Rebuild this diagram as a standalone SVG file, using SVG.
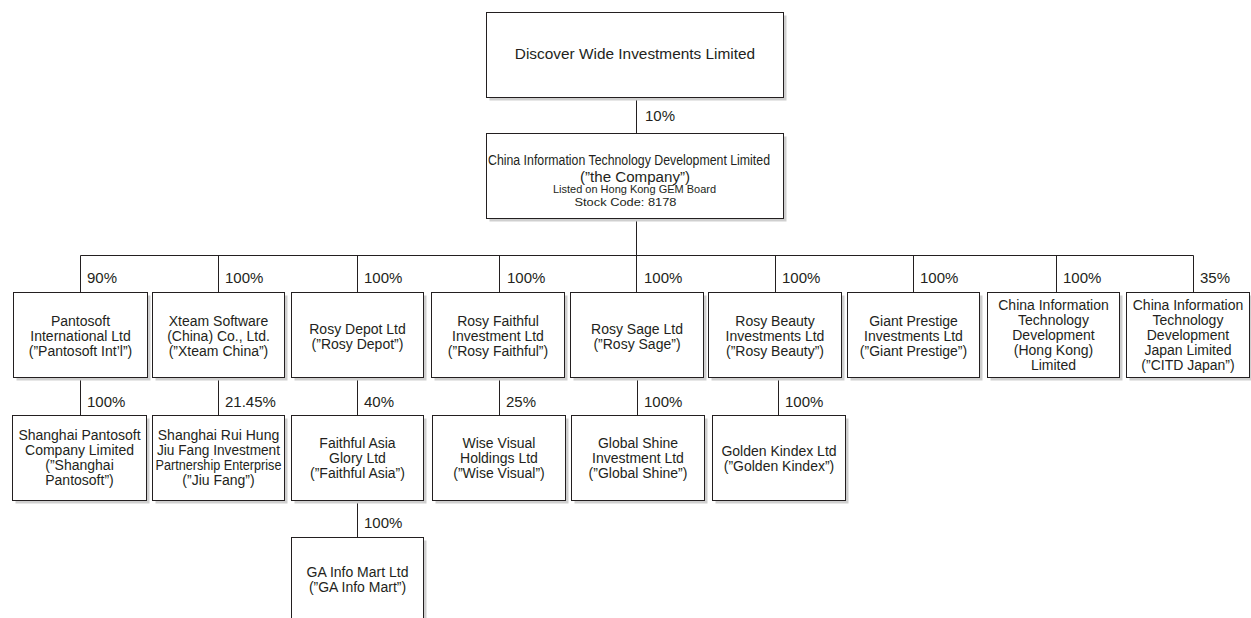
<svg xmlns="http://www.w3.org/2000/svg" width="1251" height="618" viewBox="0 0 1251 618">
<style>
  .bx{fill:#fff;stroke:#231f20;stroke-width:1}
  .sh{fill:#cfcfcf}
  .t{font-family:"Liberation Sans",Arial,Helvetica,sans-serif;font-size:14px;fill:#231f20;text-anchor:middle}
  .pc{font-family:"Liberation Sans",Arial,Helvetica,sans-serif;font-size:15px;fill:#231f20}
  .ln{stroke:#231f20;stroke-width:1;fill:none}
</style>
<rect width="1251" height="618" fill="#fff"/>

<g id="connectors">
  <path class="ln" d="M636.5 97V133"/>
  <path class="ln" d="M636.5 218V255.5M80.5 255.5H1193.5M80.5 255.5V292M218.5 255.5V292M357.5 255.5V292M499.5 255.5V292M636.5 255.5V292M775.5 255.5V292M913.5 255.5V292M1056.5 255.5V292M1193.5 255.5V292"/>
  <path class="ln" d="M80.5 377V415M218.5 377V415M357.5 377V415M499.5 377V415M637.5 377V415M778.5 377V415"/>
  <path class="ln" d="M357.5 500V537"/>
  <text class="pc" x="645" y="121">10%</text>
  <text class="pc" x="87" y="283">90%</text>
  <text class="pc" x="225" y="283">100%</text>
  <text class="pc" x="364" y="283">100%</text>
  <text class="pc" x="507" y="283">100%</text>
  <text class="pc" x="644" y="283">100%</text>
  <text class="pc" x="782" y="283">100%</text>
  <text class="pc" x="920" y="283">100%</text>
  <text class="pc" x="1063" y="283">100%</text>
  <text class="pc" x="1200" y="283">35%</text>
  <text class="pc" x="87" y="407">100%</text>
  <text class="pc" x="225" y="407">21.45%</text>
  <text class="pc" x="364" y="407">40%</text>
  <text class="pc" x="506" y="407">25%</text>
  <text class="pc" x="644" y="407">100%</text>
  <text class="pc" x="785" y="407">100%</text>
  <text class="pc" x="364" y="528">100%</text>
</g>

<g id="discover">
  <rect class="sh" x="489.5" y="15.5" width="297" height="85"/>
  <rect class="bx" x="486.5" y="12.5" width="297" height="85"/>
  <text class="t" x="635" y="59" style="font-size:15.4px">Discover Wide Investments Limited</text>
</g>

<g id="company">
  <rect class="sh" x="489.5" y="136.5" width="297" height="85"/>
  <rect class="bx" x="486.5" y="133.5" width="297" height="85"/>
  <text class="t" x="629" y="165" textLength="282" lengthAdjust="spacingAndGlyphs">China Information Technology Development Limited</text>
  <text class="t" x="635" y="181.5" textLength="110" lengthAdjust="spacingAndGlyphs">(”the Company”)</text>
  <text class="t" x="634.5" y="193" style="font-size:11px" textLength="163" lengthAdjust="spacingAndGlyphs">Listed on Hong Kong GEM Board</text>
  <text class="t" x="625.5" y="205.5" style="font-size:11px" textLength="102" lengthAdjust="spacingAndGlyphs">Stock Code: 8178</text>
</g>

<g id="pantosoft">
  <rect class="sh" x="16.5" y="295.5" width="134" height="85"/>
  <rect class="bx" x="13.5" y="292.5" width="134" height="85"/>
  <text class="t" x="80.5" y="326">Pantosoft</text>
  <text class="t" x="80.5" y="341">International Ltd</text>
  <text class="t" x="80.5" y="356">(”Pantosoft Int’l”)</text>
</g>
<g id="xteam">
  <rect class="sh" x="155.5" y="295.5" width="132" height="85"/>
  <rect class="bx" x="152.5" y="292.5" width="132" height="85"/>
  <text class="t" x="218.5" y="326">Xteam Software</text>
  <text class="t" x="218.5" y="341">(China) Co., Ltd.</text>
  <text class="t" x="218.5" y="356">(”Xteam China”)</text>
</g>
<g id="rosydepot">
  <rect class="sh" x="294.5" y="295.5" width="132" height="85"/>
  <rect class="bx" x="291.5" y="292.5" width="132" height="85"/>
  <text class="t" x="357.5" y="333.5">Rosy Depot Ltd</text>
  <text class="t" x="357.5" y="348.5">(”Rosy Depot”)</text>
</g>
<g id="rosyfaithful">
  <rect class="sh" x="434.5" y="295.5" width="133" height="85"/>
  <rect class="bx" x="431.5" y="292.5" width="133" height="85"/>
  <text class="t" x="498" y="326">Rosy Faithful</text>
  <text class="t" x="498" y="341">Investment Ltd</text>
  <text class="t" x="498" y="356">(”Rosy Faithful”)</text>
</g>
<g id="rosysage">
  <rect class="sh" x="573.5" y="295.5" width="133" height="85"/>
  <rect class="bx" x="570.5" y="292.5" width="133" height="85"/>
  <text class="t" x="637" y="333.5">Rosy Sage Ltd</text>
  <text class="t" x="637" y="348.5">(”Rosy Sage”)</text>
</g>
<g id="rosybeauty">
  <rect class="sh" x="711.5" y="295.5" width="133" height="85"/>
  <rect class="bx" x="708.5" y="292.5" width="133" height="85"/>
  <text class="t" x="775" y="326">Rosy Beauty</text>
  <text class="t" x="775" y="341">Investments Ltd</text>
  <text class="t" x="775" y="356">(”Rosy Beauty”)</text>
</g>
<g id="giantprestige">
  <rect class="sh" x="850.5" y="295.5" width="132" height="85"/>
  <rect class="bx" x="847.5" y="292.5" width="132" height="85"/>
  <text class="t" x="913.5" y="326">Giant Prestige</text>
  <text class="t" x="913.5" y="341">Investments Ltd</text>
  <text class="t" x="913.5" y="356">(”Giant Prestige”)</text>
</g>
<g id="citdhk">
  <rect class="sh" x="990.5" y="295.5" width="132" height="85"/>
  <rect class="bx" x="987.5" y="292.5" width="132" height="85"/>
  <text class="t" x="1053.5" y="310">China Information</text>
  <text class="t" x="1053.5" y="325">Technology</text>
  <text class="t" x="1053.5" y="340">Development</text>
  <text class="t" x="1053.5" y="355">(Hong Kong)</text>
  <text class="t" x="1053.5" y="370">Limited</text>
</g>
<g id="citdjapan">
  <rect class="sh" x="1129.5" y="295.5" width="123" height="85"/>
  <rect class="bx" x="1126.5" y="292.5" width="123" height="85"/>
  <text class="t" x="1188" y="310">China Information</text>
  <text class="t" x="1188" y="325">Technology</text>
  <text class="t" x="1188" y="340">Development</text>
  <text class="t" x="1188" y="355">Japan Limited</text>
  <text class="t" x="1188" y="370">(”CITD Japan”)</text>
</g>

<g id="shanghaipantosoft">
  <rect class="sh" x="15.5" y="418.5" width="134" height="85"/>
  <rect class="bx" x="12.5" y="415.5" width="134" height="85"/>
  <text class="t" x="79.5" y="440">Shanghai Pantosoft</text>
  <text class="t" x="79.5" y="455">Company Limited</text>
  <text class="t" x="79.5" y="470">(”Shanghai</text>
  <text class="t" x="79.5" y="485">Pantosoft”)</text>
</g>
<g id="jiufang">
  <rect class="sh" x="155.5" y="418.5" width="132" height="85"/>
  <rect class="bx" x="152.5" y="415.5" width="132" height="85"/>
  <text class="t" x="218.5" y="440">Shanghai Rui Hung</text>
  <text class="t" x="218.5" y="455" textLength="123" lengthAdjust="spacingAndGlyphs">Jiu Fang Investment</text>
  <text class="t" x="218.5" y="470" textLength="126" lengthAdjust="spacingAndGlyphs">Partnership Enterprise</text>
  <text class="t" x="218.5" y="485">(”Jiu Fang”)</text>
</g>
<g id="faithfulasia">
  <rect class="sh" x="294.5" y="418.5" width="132" height="85"/>
  <rect class="bx" x="291.5" y="415.5" width="132" height="85"/>
  <text class="t" x="357.5" y="448">Faithful Asia</text>
  <text class="t" x="357.5" y="463">Glory Ltd</text>
  <text class="t" x="357.5" y="478">(”Faithful Asia”)</text>
</g>
<g id="wisevisual">
  <rect class="sh" x="435.5" y="418.5" width="133" height="85"/>
  <rect class="bx" x="432.5" y="415.5" width="133" height="85"/>
  <text class="t" x="499" y="448">Wise Visual</text>
  <text class="t" x="499" y="463">Holdings Ltd</text>
  <text class="t" x="499" y="478">(”Wise Visual”)</text>
</g>
<g id="globalshine">
  <rect class="sh" x="574.5" y="418.5" width="133" height="85"/>
  <rect class="bx" x="571.5" y="415.5" width="133" height="85"/>
  <text class="t" x="638" y="448">Global Shine</text>
  <text class="t" x="638" y="463">Investment Ltd</text>
  <text class="t" x="638" y="478">(”Global Shine”)</text>
</g>
<g id="goldenkindex">
  <rect class="sh" x="715.5" y="418.5" width="133" height="85"/>
  <rect class="bx" x="712.5" y="415.5" width="133" height="85"/>
  <text class="t" x="779" y="455.5">Golden Kindex Ltd</text>
  <text class="t" x="779" y="470.5">(”Golden Kindex”)</text>
</g>

<g id="gainfomart">
  <rect class="sh" x="294.5" y="540.5" width="132" height="85"/>
  <rect class="bx" x="291.5" y="537.5" width="132" height="85"/>
  <text class="t" x="357.5" y="577">GA Info Mart Ltd</text>
  <text class="t" x="357.5" y="592">(”GA Info Mart”)</text>
</g>
</svg>
